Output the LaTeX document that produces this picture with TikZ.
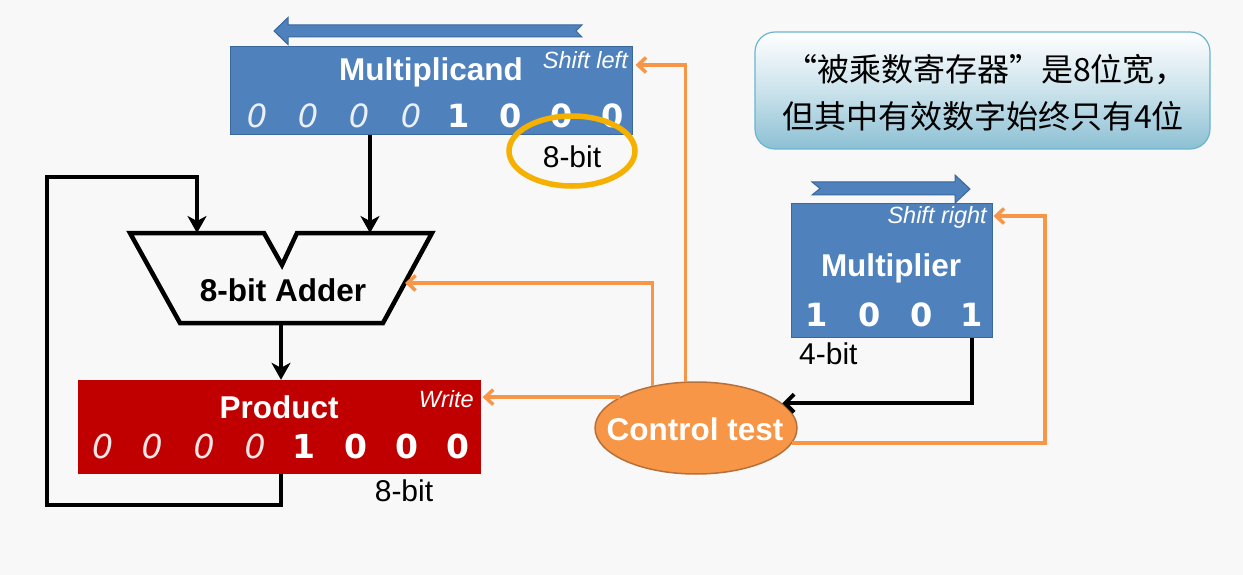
\documentclass[tikz,border=0pt]{standalone}
\usepackage{fontspec}
\setmainfont{Liberation Sans}
\newfontfamily\digfont{DejaVu Sans}
\newfontfamily\cjk{Noto Sans CJK SC}
\usetikzlibrary{arrows.meta,shapes.geometric,calc}
\definecolor{bg}{HTML}{F8F8F8}
\definecolor{regblue}{HTML}{4F81BD}
\definecolor{regedge}{HTML}{3A679C}
\definecolor{prodred}{HTML}{C00000}
\definecolor{ctrlor}{HTML}{F79646}
\definecolor{ctrledge}{HTML}{B7703A}
\definecolor{ringgold}{HTML}{F5B000}
\definecolor{callb}{HTML}{8CC0D4}
\definecolor{calledge}{HTML}{6AB4CE}
\begin{document}
\begin{tikzpicture}[x=1pt,y=-1pt,
  reg/.style={draw=regedge, fill=regblue, line width=1pt, inner sep=0pt},
  bigtxt/.style={font=\fontsize{31.5}{36}\selectfont\bfseries, text=white, inner sep=0pt},
  tagtxt/.style={font=\fontsize{23.5}{26}\selectfont\itshape, text=white, anchor=east, inner sep=0pt},
  bitup/.style={font=\digfont\bfseries\fontsize{32}{34}\selectfont, text=white, inner sep=0pt},
  bitit/.style={font=\digfont\itshape\fontsize{32}{34}\selectfont, text=white!88!regblue, inner sep=0pt},
  widthlbl/.style={font=\fontsize{30}{34}\selectfont, text=black, inner sep=0pt},
  blk/.style={draw=black, line width=4.5pt, -{Stealth[length=17pt,width=19pt,inset=5pt]}},
  blkbarb/.style={draw=black, line width=4pt, -{Straight Barb[length=9pt,width=18pt]}},
  org/.style={draw=ctrlor, line width=3.5pt, -{Straight Barb[length=8pt,width=15pt]}},
  shiftarrow/.style={fill=regblue, draw=regedge, line width=1pt}
]
\fill[bg] (0,0) rectangle (1243,575);
\useasboundingbox (0,0) rectangle (1243,575);

% ---------- Multiplicand ----------
\draw[shiftarrow] (274,31) -- (288,17.5) -- (288,25) -- (582,25) -- (576,31) -- (582,37) -- (288,37) -- (288,44.5) -- cycle;
\node[reg, minimum width=402pt, minimum height=88pt] (mcand) at (431,91) {};
\node[bigtxt] (mcandlbl) at (431,72) {Multiplicand};
\node[tagtxt] (sleft) at (628,60) {Shift left};
\foreach \x [count=\i] in {257,308,359,411} \node[bitit] (mi\i) at (\x,115.5) {0};
\node[bitup] (mu1) at (459,115.5) {1};
\foreach \x [count=\i from 2] in {511,562,613} \node[bitup] (mu\i) at (\x,115.5) {0};
\node[widthlbl] (mbits) at (572,157) {8-bit};
\draw[draw=ringgold, line width=5.5pt] (572,151) ellipse [x radius=63pt, y radius=35pt];

% ---------- Adder ----------
\draw[line width=4.5pt, fill=bg] (130,233) -- (264,233) -- (282,265) -- (297,233) -- (432,233) -- (383,323) -- (180,323) -- cycle;
\node[font=\fontsize{31.5}{36}\selectfont\bfseries, inner sep=0pt] (adder) at (283,290) {8-bit Adder};
\coordinate (inA) at (197,233);
\coordinate (inB) at (370,233);
\coordinate (addOut) at (281,323);
\coordinate (addR) at (405,283);

% ---------- Product ----------
\node[fill=prodred, inner sep=0pt, minimum width=403pt, minimum height=94pt] (product) at (279,427) {};
\node[bigtxt] (prodlbl) at (279,407) {Product};
\node[tagtxt] (write) at (474,399) {Write};
\foreach \x [count=\i] in {102.5,152,204,255} \node[bitit, font=\digfont\itshape\fontsize{33}{35}\selectfont, text=white!90!prodred] (pi\i) at (\x,446) {0};
\node[bitup, font=\digfont\bfseries\fontsize{33}{35}\selectfont] (pu1) at (304,446) {1};
\foreach \x [count=\i from 2] in {356,407,458} \node[bitup, font=\digfont\bfseries\fontsize{33}{35}\selectfont] (pu\i) at (\x,446) {0};
\node[widthlbl] (pbits) at (404,491) {8-bit};

% ---------- Multiplier ----------
\draw[shiftarrow] (970,189) -- (955,175) -- (955,182) -- (812,182) -- (820,188.5) -- (812,195) -- (955,195) -- (955,203) -- cycle;
\node[reg, minimum width=201pt, minimum height=134pt] (mplier) at (891.5,270.5) {};
\node[tagtxt] (sright) at (987,217) {Shift right};
\node[bigtxt] (mplbl) at (891,268) {Multiplier};
\foreach \x/\d [count=\i] in {817/1,870/0,922/0,972/1} \node[bitup] (xu\i) at (\x,315) {\d};
\node[widthlbl, anchor=west] (xbits) at (799,354) {4-bit};
\coordinate (mtap) at (972,338);

% ---------- Control test ----------
\node[ellipse, draw=ctrledge, line width=1.5pt, fill=ctrlor, minimum width=202pt, minimum height=92pt, inner sep=0pt] (ctrl) at (696,428) {};
\node[bigtxt] (ctrllbl) at (695,429) {Control test};

% ---------- Callout ----------
\node[draw=calledge, line width=1.2pt, rounded corners=20pt, minimum width=455pt, minimum height=117pt,
      top color=white, bottom color=callb, middle color=callb!45!white, inner sep=0pt] (note) at (982.5,90.5) {};
\node[font=\cjk\fontsize{32}{36}\selectfont, inner sep=0pt] (note1) at (986,70) {“被乘数寄存器”是8位宽，};
\node[font=\cjk\fontsize{32}{36}\selectfont, inner sep=0pt] (note2) at (983,116) {但其中有效数字始终只有4位};

% ---------- Black connectors ----------
\draw[blk] (mcand.south -| inB) -- (inB);
\draw[blk] (addOut) -- (addOut |- product.north);
\coordinate (fb1) at (281,505);
\coordinate (fb2) at (47,505);
\coordinate (fb3) at (47,177);
\coordinate (fb4) at (197,177);
\draw[blk] (addOut |- product.south) -- (fb1) -- (fb2) -- (fb3) -- (fb4) -- (inA);
\draw[blkbarb] (mtap) |- (ctrl.16);

% ---------- Orange control lines ----------
\coordinate (slT) at (685,65);
\draw[org, shorten >=3pt] (ctrl.103.5) |- (mcand.east |- slT);
\draw[org] (ctrl.136.7) |- (addR);
\draw[org, shorten >=2pt] (ctrl.158.7) -- (product.east |- ctrl.158.7);
\coordinate (srT) at (1045,216);
\draw[org, shorten >=1pt] (ctrl.-9) -| (srT) -- (mplier.east |- srT);
\end{tikzpicture}
\end{document}
